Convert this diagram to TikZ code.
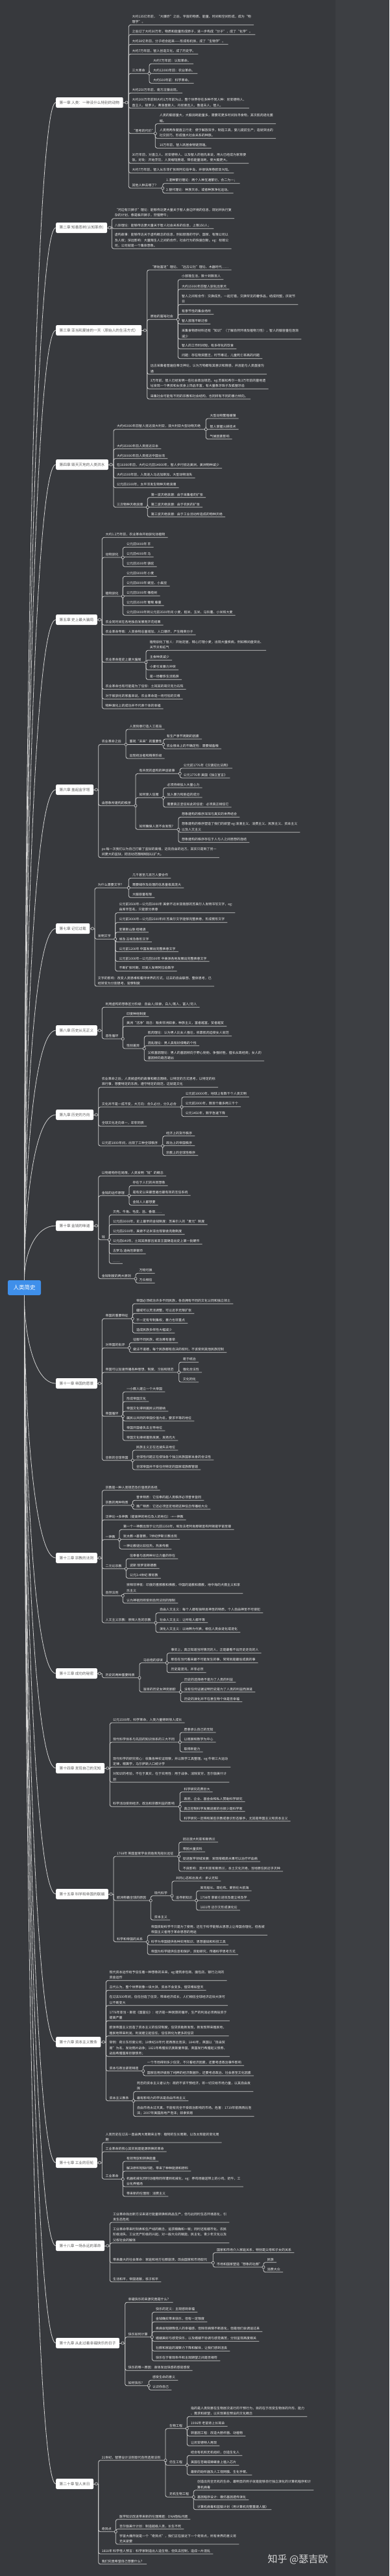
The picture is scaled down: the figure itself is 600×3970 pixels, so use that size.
\documentclass[tikz,border=0pt]{standalone}
\usepackage{fontspec}
\setmainfont{Noto Sans CJK SC}
\usepackage{xcolor}
\usepackage{tikz}
\usetikzlibrary{calc}

\definecolor{bgdark}{HTML}{37393D}
\definecolor{bgside}{HTML}{3D3F43}
\definecolor{linegray}{HTML}{D2D2D2}
\definecolor{itemwhite}{HTML}{F2F2F2}
\definecolor{topicgray}{HTML}{5C5C5C}
\definecolor{rootblue}{HTML}{3F8FEA}
\definecolor{brandgray}{HTML}{D8D8D8}

\begin{document}
\begin{tikzpicture}[x=1pt, y=-1pt,
      rootbox/.style={fill=rootblue, rounded corners=2.5pt, text=white, font=\fontsize{8.5}{10}\selectfont, minimum width=51pt, minimum height=23pt, inner sep=0pt},
      topic/.style={fill=white, rounded corners=2pt, text=topicgray, font=\fontsize{5.7}{7}\selectfont, minimum height=16pt, inner xsep=5.5pt, anchor=west},
      item/.style={anchor=south west, text=itemwhite, font=\fontsize{5}{8.3}\selectfont, align=left, inner xsep=4pt, inner ysep=2pt},
      link/.style={draw=linegray, line width=0.8pt, rounded corners=3pt},
      knob/.style={circle, draw=linegray, fill=bgdark, line width=0.6pt, inner sep=0pt, minimum size=4.2pt},
      brand/.style={text=brandgray, font=\fontsize{15}{18}\selectfont}]

    \path[use as bounding box, fill=bgdark] (0,0) rectangle (600,3970);
    \fill[bgside] (517,0) rectangle (600,3970);

    \node[rootbox] (root) at (37.5,1984.5) {人类简史};

    % 第一章
    \node[topic] (ch1) at (86,158) {第一章 人类：一种没什么特别的动物};
    \coordinate (ch1-k) at (195,158); \coordinate (ch1-t) at (198.3,158);
    \node[item] (c1a) at (199.3,38.3) {大约135亿年前，“大爆炸”之后，宇宙的物质、能量、时间和空间形成，成为“物\\理学”。};
    \node[item] (c1b) at (199.3,53.3) {之后过了大约30万年，物质和能量形成原子，进一步构成“分子”，成了“化学”。};
    \node[item] (c1c) at (199.3,68.3) {大约38亿年前，分子结合起来——形成有机体，成了“生物学”。};
    \node[item] (c1d) at (199.3,83.3) {大约7万年前，智人创造文化，成了历史学。};
    \node[item] (c1e) at (199.3,113.3) {三大革命};
    \coordinate (c1e-k) at (230,113.3);
    \node[item] (c1e1) at (232,98.3) {大约7万年前：认知革命。};
    \node[item] (c1e2) at (232,113.3) {大约12000年前：农业革命。};
    \node[item] (c1e3) at (232,128.3) {大约500年前：科学革命。};
    \node[item] (c1f) at (199.3,143.3) {大约250万年前，南方古猿出现。};
    \node[item] (c1g) at (199.3,166.7) {大约200万年前到大约1万年前为止，整个世界存在多种不同人种：尼安德特人、\\直立人、梭罗人、弗洛里斯人、丹尼索瓦人、鲁道夫人、智人。};
    \node[item] (c1h) at (199.3,205.7) {“思考的代价”};
    \coordinate (c1h-k) at (239.3,205.7);
    \node[item] (c1h1) at (241.7,190.7) {人类的脑容量大，大脑消耗能量多，需要花更多时间找寻食物，其次肌肉退化萎\\缩。};
    \node[item] (c1h2) at (241.7,213.3) {人类用两条腿直立行走：便于解放双手，制造工具，婴儿提前生产；造就突出的\\社交技巧，形成强大社会关系的种族。};
    \node[item] (c1h3) at (241.7,228.3) {10万年前，智人跃居食物链顶端。};
    \node[item] (c1i) at (199.3,251.7) {30万年前，对直立人、尼安德特人、以及智人的祖先来说，用火已经成为家常便\\饭。好处：开始烹饪，人类缩短肠道，降低能量消耗，使大脑更大。};
    \node[item] (c1j) at (199.3,266.7) {大约7万年前，智人从东非扩张到阿拉伯半岛，并很快席卷欧亚大陆。};
    \node[item] (c1k) at (199.3,290) {其他人种去哪了？};
    \coordinate (c1k-k) at (250.7,290);
    \node[item] (c1k1) at (252,282.7) {1.混种繁衍理论：两个人种互通繁衍，合二为一；};
    \node[item] (c1k2) at (252,297.7) {2.替代理论：种族灭杀，或者种族净化运动。};
    \draw[link] (ch1.east) -- (ch1-t);
    \foreach \n in {c1a,c1b,c1c,c1d,c1f,c1g,c1i,c1j} \draw[link] (ch1-t) |- (\n.south east);
    \foreach \n in {c1e,c1h,c1k} \draw[link] (ch1-t) |- (\n-k);
    \foreach \n in {c1e1,c1e2,c1e3} \draw[link] (c1e-k) |- (\n.south east);
    \foreach \n in {c1h1,c1h2,c1h3} \draw[link] (c1h-k) |- (\n.south east);
    \foreach \n in {c1k1,c1k2} \draw[link] (c1k-k) |- (\n.south east);
    \foreach \k in {ch1,c1e,c1h,c1k} \node[knob] at (\k-k) {};

    % 第二章
    \node[topic] (ch2) at (86,351) {第二章 知善恶树(认知革命)};
    \coordinate (ch2-k) at (169,351); \coordinate (ch2-t) at (172.3,351);
    \node[item] (c2a) at (172.7,336.7) {“河边有只狮子”理论：能够传达更大量关于智人身边环境的信息，规划并执行复\\杂的计划，像是躲开狮子，狩猎野牛；};
    \node[item] (c2b) at (172.7,352.3) {八卦理论：能够传达更大量关于智人社会关系的信息，上限150人；};
    \node[item] (c2c) at (172.7,383.3) {虚构故事：能够传达关于虚构概念的信息，例如部落的守护、国家、有限公司以\\及人权；深远影响：大量陌生人之间的合作，社会行为的快速创新。eg：标致公\\司，公司就是一个集体想象。};
    \draw[link] (ch2.east) -- (ch2-t);
    \foreach \n in {c2a,c2b,c2c} \draw[link] (ch2-t) |- (\n.south east);
    \node[knob] at (ch2-k) {};

    % 第三章
    \node[topic] (ch3) at (86,509) {第三章 亚当和夏娃的一天（原始人的生活方式）};
    \coordinate (ch3-k) at (223.3,509); \coordinate (ch3-t) at (226.7,509);
    \node[item] (c3a) at (227.7,416) {“原始富足”理论、“远古公社”理论、木器时代……};
    \node[item] (c3b) at (227.7,492.3) {原始的富裕社会};
    \coordinate (c3b-k) at (274.3,492.3);
    \node[item] (c3b1) at (276,430.7) {小部落生活，数十到数百人};
    \node[item] (c3b2) at (276,445.7) {大约15000年前智人驯化出家犬};
    \node[item] (c3b3) at (276,469.3) {智人之间有合作：交换成员，一起打猎，交换罕见的奢侈品，结成同盟，庆祝节\\日};
    \node[item] (c3b4) at (276,484.3) {有季节性的集会场所};
    \node[item] (c3b5) at (276,499.3) {智人部落不断迁移};
    \node[item] (c3b6) at (276,522.7) {采集食物原材料还有“知识”（了解自然环境及植物习性），智人的脑容量在逐渐\\减少};
    \node[item] (c3b7) at (276,537.7) {智人的工作时间短，有多样化的饮食};
    \node[item] (c3b8) at (276,552.7) {问题：存在物资匮乏，时节难过，儿童死亡率高的问题};
    \node[item] (c3c) at (227.7,576.7) {远古采集者普遍信奉泛神论，认为万物都有其意识和情感，并且能与人类直接沟\\通};
    \node[item] (c3d) at (227.7,599.3) {3万年前，智人已经发明一些社会政治规范。eg:苏联松希尔一处3万年前的墓地遗\\址发现一个男孩和女孩身上饰品丰富，有大量象牙珠子及狐狸牙齿};
    \node[item] (c3e) at (227.7,615) {采集社会可能有不同的宗教和社会结构，也同样有不同的暴力倾向。};
    \draw[link] (ch3.east) -- (ch3-t);
    \foreach \n in {c3a,c3c,c3d,c3e} \draw[link] (ch3-t) |- (\n.south east);
    \draw[link] (ch3-t) |- (c3b-k);
    \foreach \n in {c3b1,c3b2,c3b3,c3b4,c3b5,c3b6,c3b7,c3b8} \draw[link] (c3b-k) |- (\n.south east);
    \foreach \k in {ch3,c3b} \node[knob] at (\k-k) {};

    % 第四章
    \node[topic] (ch4) at (86,716) {第四章 毁天灭地的人类洪水};
    \coordinate (ch4-k) at (171,716); \coordinate (ch4-t) at (175,716);
    \node[item] (c4a) at (176,661.7) {大约45000年前智人抵达澳大利亚，澳大利亚大型动物灭绝};
    \coordinate (c4a-k) at (317.3,661.7);
    \node[item] (c4a1) at (319.3,645) {大型动物繁殖缓慢};
    \node[item] (c4a2) at (319.3,661.7) {智人掌握火耕技术};
    \node[item] (c4a3) at (319.3,676.7) {气候因素影响};
    \node[item] (c4b) at (176,691.7) {大约35000年前人类抵达日本};
    \node[item] (c4c) at (176,706.7) {大约30000年前人类抵达中国台湾};
    \node[item] (c4d) at (176,721.7) {在16000年前，大约公元前14000年，智人步行抵达美洲，美洲物种减少};
    \node[item] (c4e) at (176,736.7) {大约1500年前，人类进入马达加斯加，大型动物消失};
    \node[item] (c4f) at (176,751.7) {公元前1500年，太平洋发生物种灭绝浪潮};
    \node[item] (c4g) at (176,781.7) {三次物种灭绝浪潮};
    \coordinate (c4g-k) at (227.3,781.7);
    \node[item] (c4g1) at (228.7,766.7) {第一波灭绝浪潮：由于采集者的扩张};
    \node[item] (c4g2) at (228.7,781.7) {第二波灭绝浪潮：由于农民的扩张};
    \node[item] (c4g3) at (228.7,796.7) {第三波灭绝浪潮：由于工业活动所造成的物种灭绝};
    \draw[link] (ch4.east) -- (ch4-t);
    \foreach \n in {c4b,c4c,c4d,c4e,c4f} \draw[link] (ch4-t) |- (\n.south east);
    \foreach \n in {c4a,c4g} \draw[link] (ch4-t) |- (\n-k);
    \foreach \n in {c4a1,c4a2,c4a3} \draw[link] (c4a-k) |- (\n.south east);
    \foreach \n in {c4g1,c4g2,c4g3} \draw[link] (c4g-k) |- (\n.south east);
    \foreach \k in {ch4,c4a,c4g} \node[knob] at (\k-k) {};

    % 第五章
    \node[topic] (ch5) at (86,955) {第五章 史上最大骗局};
    \coordinate (ch5-k) at (153.3,955); \coordinate (ch5-t) at (157.3,955);
    \node[item] (c5a) at (158.3,828.3) {大约1.2万年前，农业革命开始驯化动植物};
    \node[item] (c5b) at (158.3,859) {动物驯化};
    \coordinate (c5b-k) at (189.3,859);
    \node[item] (c5b1) at (191,843.3) {公元前9000年 羊};
    \node[item] (c5b2) at (191,858.3) {公元前4000年 马};
    \node[item] (c5b3) at (191,873.3) {公元前3500年 骆驼};
    \node[item] (c5c) at (158.3,919) {植物驯化};
    \coordinate (c5c-k) at (189.3,919);
    \node[item] (c5c1) at (191,888.3) {公元前9000年 小麦};
    \node[item] (c5c2) at (191,903.3) {公元前8000年 豌豆、小扁豆};
    \node[item] (c5c3) at (191,918.3) {公元前5000年 橄榄树};
    \node[item] (c5c4) at (191,933.3) {公元前3500年 葡萄 藤蔓};
    \node[item] (c5c5) at (191,948.3) {公元前9000年到公元前3500年间 小麦、稻米、玉米、马铃薯、小米和大麦};
    \node[item] (c5d) at (158.3,963.3) {农业同时间在各地独自发展而开花结果};
    \node[item] (c5e) at (158.3,978.3) {农业革命导致：人类食物总量增加，人口爆炸，产生精英分子};
    \node[item] (c5f) at (158.3,1020.7) {农业革命是史上最大骗局};
    \coordinate (c5f-k) at (225,1020.7);
    \node[item] (c5f1) at (226.7,1002.3) {植物驯化了智人：开始定居，精心打理小麦，出现大量疾病，例如椎间盘突出、\\关节炎和疝气};
    \node[item] (c5f2) at (226.7,1017.3) {主食种类减少};
    \node[item] (c5f3) at (226.7,1032.3) {小麦引发暴力冲突};
    \node[item] (c5f4) at (226.7,1047.3) {是一场奢侈生活陷阱};
    \node[item] (c5g) at (158.3,1062.3) {农业革命也有可能是为了信仰：土耳其的哥贝克力石阵};
    \node[item] (c5h) at (158.3,1077.3) {对于被驯化的家畜来说，农业革命是一场可怕的灾难};
    \node[item] (c5i) at (158.3,1092.3) {物种演化上的成功并不代表个体的幸福};
    \draw[link] (ch5.east) -- (ch5-t);
    \foreach \n in {c5a,c5d,c5e,c5g,c5h,c5i} \draw[link] (ch5-t) |- (\n.south east);
    \foreach \n in {c5b,c5c,c5f} \draw[link] (ch5-t) |- (\n-k);
    \foreach \n in {c5b1,c5b2,c5b3} \draw[link] (c5b-k) |- (\n.south east);
    \foreach \n in {c5c1,c5c2,c5c3,c5c4,c5c5} \draw[link] (c5c-k) |- (\n.south east);
    \foreach \n in {c5f1,c5f2,c5f3,c5f4} \draw[link] (c5f-k) |- (\n.south east);
    \foreach \k in {ch5,c5b,c5c,c5f} \node[knob] at (\k-k) {};

    % 第六章
    \node[topic] (ch6) at (86,1217) {第六章 盖起金字塔};
    \coordinate (ch6-k) at (148.3,1217); \coordinate (ch6-t) at (151.7,1217);
    \node[item] (c6a) at (152.7,1147.3) {农业革命之后};
    \coordinate (c6a-k) at (194,1147.3);
    \node[item] (c6a1) at (195.3,1124) {人类刻意打造人工孤岛};
    \node[item] (c6a2) at (195.3,1147.3) {重视“未来”的重要性};
    \coordinate (c6a2-k) at (251.7,1147.3);
    \node[item] (c6a2a) at (252.7,1139) {有生产季节周期的因素};
    \node[item] (c6a2b) at (252.7,1154) {农业根本上的不确定性：需要储备粮};
    \node[item] (c6a3) at (195.3,1169) {出现统治者和精英阶级};
    \node[item] (c6b) at (152.7,1241.7) {由想象所建构的秩序};
    \coordinate (c6b-k) at (209,1241.7);
    \node[item] (c6b1) at (210.3,1192.3) {有共同的虚构的神话故事};
    \coordinate (c6b1-k) at (277.3,1192.3);
    \node[item] (c6b1a) at (278.7,1184) {公元前1776年《汉谟拉比法典》};
    \node[item] (c6b1b) at (278.7,1199) {公元1776年 美国《独立宣言》};
    \node[item] (c6b2) at (210.3,1229.3) {如何使人信服};
    \coordinate (c6b2-k) at (251.7,1229.3);
    \node[item] (c6b2a) at (253.3,1214) {必须持续投入大量心力};
    \node[item] (c6b2b) at (253.3,1229) {加入暴力和胁迫的成分};
    \node[item] (c6b2c) at (253.3,1244) {需要真正坚信如此的信徒：必须真正相信它};
    \node[item] (c6b3) at (210.3,1278.3) {如何确保人类不会发现?};
    \coordinate (c6b3-k) at (275,1278.3);
    \node[item] (c6b3a) at (276,1259.3) {想象建构的秩序深深与真实的世界结合};
    \node[item] (c6b3b) at (276,1282.7) {想象建构的秩序塑造了我们的欲望 eg:浪漫主义、消费主义、民族主义、资本主义\\以及人文主义};
    \node[item] (c6b3c) at (276,1298.3) {想象建构的秩序存在于人与人之间思想的连结};
    \node[item] (c6c) at (152.7,1321.7) {ps:每一次我们以为自己打破了监狱的高墙，迈向自由的远方，其实只是到了另一\\间更大的监狱，把活动范围稍稍加以扩大。};
    \draw[link] (ch6.east) -- (ch6-t);
    \draw[link] (ch6-t) |- (c6c.south east);
    \foreach \n in {c6a,c6b} \draw[link] (ch6-t) |- (\n-k);
    \foreach \n in {c6a1,c6a3} \draw[link] (c6a-k) |- (\n.south east);
    \draw[link] (c6a-k) -- (c6a2-k);
    \foreach \n in {c6a2a,c6a2b} \draw[link] (c6a2-k) |- (\n.south east);
    \foreach \n in {c6b1,c6b2,c6b3} \draw[link] (c6b-k) |- (\n-k);
    \foreach \n in {c6b1a,c6b1b} \draw[link] (c6b1-k) |- (\n.south east);
    \foreach \n in {c6b2a,c6b2b,c6b2c} \draw[link] (c6b2-k) |- (\n.south east);
    \foreach \n in {c6b3a,c6b3b,c6b3c} \draw[link] (c6b3-k) |- (\n.south east);
    \foreach \k in {ch6,c6a,c6a2,c6b,c6b1,c6b2,c6b3} \node[knob] at (\k-k) {};

    % 第七章
    \node[topic] (ch7) at (86,1431) {第七章 记忆过载};
    \coordinate (ch7-k) at (142.3,1431); \coordinate (ch7-t) at (146,1431);
    \node[item] (c7a) at (146.7,1368.3) {为什么需要文字?};
    \coordinate (c7a-k) at (198.3,1368.3);
    \node[item] (c7a1) at (200,1353.3) {几千甚至几百万人要合作};
    \node[item] (c7a2) at (200,1368.3) {需要储存及处理的信息量极其庞大};
    \node[item] (c7a3) at (200,1383.3) {大脑容量有限};
    \node[item] (c7b) at (146.7,1447.3) {发明文字};
    \coordinate (c7b-k) at (177.7,1447.3);
    \node[item] (c7b1) at (179.3,1406.7) {公元前3500年—公元前3000年 美索不达米亚南部的苏美尔人发明书写文字，eg:\\由库辛签名，只能部分表意};
    \node[item] (c7b2) at (179.3,1421.7) {公元前3000年—公元前2500年间 苏美尔文字能够完整表意，形成楔形文字};
    \node[item] (c7b3) at (179.3,1436.7) {安第斯山脉 结绳语};
    \node[item] (c7b4) at (179.3,1451.7) {埃及 古埃及象形文字};
    \node[item] (c7b5) at (179.3,1466.7) {公元前1200年 中国发展出完整表意文字};
    \node[item] (c7b6) at (179.3,1481.7) {公元前1000年—公元前500年 中美洲各地发展出完整表意文字};
    \node[item] (c7b7) at (179.3,1496.7) {不断扩张时期，印度人发明阿拉伯数字};
    \node[item] (c7c) at (146.7,1520) {文字的影响：改变人类思维和看待世界的方式，过去的自由联想、整体思考，已\\经转变为分割思考、官僚制度};
    \draw[link] (ch7.east) -- (ch7-t);
    \draw[link] (ch7-t) |- (c7c.south east);
    \foreach \n in {c7a,c7b} \draw[link] (ch7-t) |- (\n-k);
    \foreach \n in {c7a1,c7a2,c7a3} \draw[link] (c7a-k) |- (\n.south east);
    \foreach \n in {c7b1,c7b2,c7b3,c7b4,c7b5,c7b6,c7b7} \draw[link] (c7b-k) |- (\n.south east);
    \foreach \k in {ch7,c7a,c7b} \node[knob] at (\k-k) {};

    % 第八章
    \node[topic] (ch8) at (86,1588) {第八章 历史从无正义};
    \coordinate (ch8-k) at (153.3,1588); \coordinate (ch8-t) at (157.3,1588);
    \node[item] (c8a) at (158.3,1552.3) {利用虚构的想象区分阶级：自由人/奴隶，白人/黑人，富人/穷人};
    \node[item] (c8b) at (158.3,1601) {恶性循环};
    \coordinate (c8b-k) at (189.3,1601);
    \node[item] (c8b1) at (191,1566.7) {印度种姓制度};
    \node[item] (c8b2) at (191,1581.7) {美洲“洁净”观念：贩卖非洲奴隶，种族主义，富者越富，贫者越贫};
    \node[item] (c8b3) at (191,1616) {性别差异};
    \coordinate (c8b3-k) at (222.3,1616);
    \node[item] (c8b3a) at (223.7,1596.7) {肌肉理论：认为男人比女人强壮，依靠肌肉迫使女人就范};
    \node[item] (c8b3b) at (223.7,1611.7) {混乱理论：男人具有好侵略的个性};
    \node[item] (c8b3c) at (223.7,1635) {父权基因理论：男人的基因倾向于野心勃勃，争强好胜，擅长从政经商；女人的\\基因倾向趋吉避凶};
    \draw[link] (ch8.east) -- (ch8-t);
    \draw[link] (ch8-t) |- (c8a.south east);
    \draw[link] (ch8-t) |- (c8b-k);
    \foreach \n in {c8b1,c8b2} \draw[link] (c8b-k) |- (\n.south east);
    \draw[link] (c8b-k) |- (c8b3-k);
    \foreach \n in {c8b3a,c8b3b,c8b3c} \draw[link] (c8b3-k) |- (\n.south east);
    \foreach \k in {ch8,c8b,c8b3} \node[knob] at (\k-k) {};

    % 第九章
    \node[topic] (ch9) at (86,1718) {第九章 历史的方向};
    \coordinate (ch9-k) at (148.3,1718); \coordinate (ch9-t) at (151.7,1718);
    \node[item] (c9a) at (152.7,1675.7) {农业革命之后，人类被虚构的故事和概念围绕，以特定的方式思考，以特定的标\\准行事，想要特定的东西，遵守特定的规范，这就是文化};
    \node[item] (c9b) at (152.7,1706) {文化并不是一成不变，大方向：合久必分，分久必合};
    \coordinate (c9b-k) at (280,1706);
    \node[item] (c9b1) at (281.7,1690.7) {公元前10000年，地球上有数千个人类文明};
    \node[item] (c9b2) at (281.7,1705.7) {公元前2000年，数百个最多两三千个};
    \node[item] (c9b3) at (281.7,1720.7) {公元1450年，数字急速下降};
    \node[item] (c9c) at (152.7,1735.7) {全球文化走向单一，却非同质};
    \node[item] (c9d) at (152.7,1766) {公元前1000年间，出现了三种全球秩序};
    \coordinate (c9d-k) at (250.7,1766);
    \node[item] (c9d1) at (252,1750.7) {经济上的货币秩序};
    \node[item] (c9d2) at (252,1765.7) {政治上的帝国秩序};
    \node[item] (c9d3) at (252,1780.7) {宗教上的全球性秩序};
    \draw[link] (ch9.east) -- (ch9-t);
    \foreach \n in {c9a,c9c} \draw[link] (ch9-t) |- (\n.south east);
    \foreach \n in {c9b,c9d} \draw[link] (ch9-t) |- (\n-k);
    \foreach \n in {c9b1,c9b2,c9b3} \draw[link] (c9b-k) |- (\n.south east);
    \foreach \n in {c9d1,c9d2,c9d3} \draw[link] (c9d-k) |- (\n.south east);
    \foreach \k in {ch9,c9b,c9d} \node[knob] at (\k-k) {};

    % 第十章
    \node[topic] (ch10) at (86,1889) {第十章 金钱的味道};
    \coordinate (ch10-k) at (148.3,1889); \coordinate (ch10-t) at (151.7,1889);
    \node[item] (c10a) at (152.7,1812.3) {以物易物存在局限，人类发明“钱”的概念};
    \node[item] (c10b) at (152.7,1842.7) {金钱的运作原理};
    \coordinate (c10b-k) at (199,1842.7);
    \node[item] (c10b1) at (200.3,1827.3) {存在于人们的共同想象};
    \node[item] (c10b2) at (200.3,1842.3) {是有史以来最普遍也最有效的互信系统};
    \node[item] (c10b3) at (200.3,1857.3) {金钱人人都想要};
    \node[item] (c10c) at (152.7,1910.7) {钱};
    \coordinate (c10c-k) at (168.3,1910.7);
    \node[item] (c10c1) at (170,1872.3) {贝壳、牛角、毛皮、盐、香烟……};
    \node[item] (c10c2) at (170,1887.3) {公元前3000年，史上最早的金钱制度：苏美尔人的“麦元”制度};
    \node[item] (c10c3) at (170,1902.3) {公元前2500年，美索不达米亚出现银舍克勒制度};
    \node[item] (c10c4) at (170,1917.3) {公元前640年，土耳其西部吕底亚王国铸造出史上第一批硬币};
    \node[item] (c10c5) at (170,1932.3) {古罗马 迪纳厄斯银币};
    \node[item] (c10c6) at (170,1947.3) {……};
    \node[item] (c10d) at (152.7,1970.7) {金钱制度的两大原则};
    \coordinate (c10d-k) at (209,1970.7);
    \node[item] (c10d1) at (210.3,1962.3) {万物可换};
    \node[item] (c10d2) at (210.3,1977.3) {万众相信};
    \draw[link] (ch10.east) -- (ch10-t);
    \draw[link] (ch10-t) |- (c10a.south east);
    \foreach \n in {c10b,c10c,c10d} \draw[link] (ch10-t) |- (\n-k);
    \foreach \n in {c10b1,c10b2,c10b3} \draw[link] (c10b-k) |- (\n.south east);
    \foreach \n in {c10c1,c10c2,c10c3,c10c4,c10c5,c10c6} \draw[link] (c10c-k) |- (\n.south east);
    \foreach \n in {c10d1,c10d2} \draw[link] (c10d-k) |- (\n.south east);
    \foreach \k in {ch10,c10b,c10c,c10d} \node[knob] at (\k-k) {};

    % 第十一章
    \node[topic] (ch11) at (86,2132) {第十一章 帝国的愿景};
    \coordinate (ch11-k) at (153.3,2132); \coordinate (ch11-t) at (157.3,2132);
    \node[item] (c11a) at (158.3,2032.3) {帝国的重要特征};
    \coordinate (c11a-k) at (204.3,2032.3);
    \node[item] (c11a1) at (206,2009.3) {帝国必须统治许多不同民族，各自拥有不同的文化认同和独立领土};
    \node[item] (c11a2) at (206,2024.3) {疆域可以灵活调整，可以近乎无限扩张};
    \node[item] (c11a3) at (206,2039.3) {不一定有专制集权，暴力也非重点};
    \node[item] (c11a4) at (206,2054.3) {造成民族多样性大幅减少};
    \node[item] (c11b) at (158.3,2077.3) {对帝国的批评};
    \coordinate (c11b-k) at (199.3,2077.3);
    \node[item] (c11b1) at (201,2069.3) {征服不同民族，统治难有善举};
    \node[item] (c11b2) at (201,2084.3) {做法不道德，每个民族都有自决的权利，不该受到其他民族控制};
    \node[item] (c11c) at (158.3,2115) {帝国可以加速传播各种思想、制度、习俗和规范};
    \coordinate (c11c-k) at (275.7,2115);
    \node[item] (c11c1) at (277.7,2099.3) {易于统治};
    \node[item] (c11c2) at (277.7,2115) {强化合法性};
    \node[item] (c11c3) at (277.7,2130) {文化同化};
    \node[item] (c11d) at (158.3,2182.7) {帝国循环};
    \coordinate (c11d-k) at (189.3,2182.7);
    \node[item] (c11d1) at (191,2145) {一小群人建立一个大帝国};
    \node[item] (c11d2) at (191,2160) {形成帝国文化};
    \node[item] (c11d3) at (191,2175) {帝国文化得到属民认同接纳};
    \node[item] (c11d4) at (191,2190) {属民以共同的帝国价值为名，要求平等的地位};
    \node[item] (c11d5) at (191,2205) {帝国开国者失去主导地位};
    \node[item] (c11d6) at (191,2220) {帝国文化继续蓬勃发展，发扬光大};
    \node[item] (c11e) at (158.3,2250.7) {全新的全球帝国};
    \coordinate (c11e-k) at (204.3,2250.7);
    \node[item] (c11e1) at (206,2235) {民族主义正在迅速失去地位};
    \node[item] (c11e2) at (206,2250) {全球性问题正在侵蚀各个独立民族国家本身的合法性};
    \node[item] (c11e3) at (206,2265) {全球帝国并不受任何特定的国家或族群管辖};
    \draw[link] (ch11.east) -- (ch11-t);
    \foreach \n in {c11a,c11b,c11c,c11d,c11e} \draw[link] (ch11-t) |- (\n-k);
    \foreach \n in {c11a1,c11a2,c11a3,c11a4} \draw[link] (c11a-k) |- (\n.south east);
    \foreach \n in {c11b1,c11b2} \draw[link] (c11b-k) |- (\n.south east);
    \foreach \n in {c11c1,c11c2,c11c3} \draw[link] (c11c-k) |- (\n.south east);
    \foreach \n in {c11d1,c11d2,c11d3,c11d4,c11d5,c11d6} \draw[link] (c11d-k) |- (\n.south east);
    \foreach \n in {c11e1,c11e2,c11e3} \draw[link] (c11e-k) |- (\n.south east);
    \foreach \k in {ch11,c11a,c11b,c11c,c11d,c11e} \node[knob] at (\k-k) {};

    % 第十二章
    \node[topic] (ch12) at (86,2401) {第十二章 宗教的法则};
    \coordinate (ch12-k) at (153.3,2401); \coordinate (ch12-t) at (157.3,2401);
    \node[item] (c12a) at (158.3,2296.7) {宗教是一种人类规范及价值观的系统};
    \node[item] (c12b) at (158.3,2320) {宗教的两种特质};
    \coordinate (c12b-k) at (204.3,2320);
    \node[item] (c12b1) at (206,2312.3) {普世特质：它信奉的超人类秩序必须普世皆同};
    \node[item] (c12b2) at (206,2326) {推广特质：它还必须坚定地把这种信念传播给大众};
    \node[item] (c12c) at (158.3,2342.3) {泛神论→多神教（提高神的地位及人的地位）→一神教};
    \node[item] (c12d) at (158.3,2372.7) {一神教};
    \coordinate (c12d-k) at (184,2372.7);
    \node[item] (c12d1) at (186,2357.3) {第一个一神教出现于公元前1350年，埃及法老阿肯那顿宣布阿顿是宇宙至尊};
    \node[item] (c12d2) at (186,2372.3) {犹太教→基督教，7世纪伊斯兰教出现};
    \node[item] (c12d3) at (186,2387.3) {一神论教徒比较狂热，热衷传教};
    \node[item] (c12e) at (158.3,2417.7) {二元论宗教};
    \coordinate (c12e-k) at (194.3,2417.7);
    \node[item] (c12e1) at (196,2402.3) {信奉善与恶两种对立力量的存在};
    \node[item] (c12e2) at (196,2417.3) {波斯 琐罗亚斯德教};
    \node[item] (c12e3) at (196,2432.3) {公元3-4世纪 摩尼教};
    \node[item] (c12f) at (158.3,2459.3) {自然法则};
    \coordinate (c12f-k) at (189.3,2459.3);
    \node[item] (c12f1) at (191,2455.7) {崇拜非神祇：印度的耆那教和佛教，中国的道教和儒教，地中海的犬儒主义和享\\乐主义};
    \node[item] (c12f2) at (191,2470.7) {认为神祇同样受到自然法则的限制};
    \node[item] (c12g) at (158.3,2501) {人文主义宗教：崇拜人性的宗教};
    \coordinate (c12g-k) at (240,2501);
    \node[item] (c12g1) at (242,2485.7) {自由人文主义：每个人都有独特且神圣的特质，个人自由神圣不可侵犯};
    \node[item] (c12g2) at (242,2500.7) {社会人文主义：让所有人都平等};
    \node[item] (c12g3) at (242,2515.7) {演化人文主义：以纳粹为代表，相信人类会进化或退化};
    \draw[link] (ch12.east) -- (ch12-t);
    \foreach \n in {c12a,c12c} \draw[link] (ch12-t) |- (\n.south east);
    \foreach \n in {c12b,c12d,c12e,c12f,c12g} \draw[link] (ch12-t) |- (\n-k);
    \foreach \n in {c12b1,c12b2} \draw[link] (c12b-k) |- (\n.south east);
    \foreach \n in {c12d1,c12d2,c12d3} \draw[link] (c12d-k) |- (\n.south east);
    \foreach \n in {c12e1,c12e2,c12e3} \draw[link] (c12e-k) |- (\n.south east);
    \foreach \n in {c12f1,c12f2} \draw[link] (c12f-k) |- (\n.south east);
    \foreach \n in {c12g1,c12g2,c12g3} \draw[link] (c12g-k) |- (\n.south east);
    \foreach \k in {ch12,c12b,c12d,c12e,c12f,c12g} \node[knob] at (\k-k) {};

    % 第十三章
    \node[topic] (ch13) at (86,2579) {第十三章 成功的秘密};
    \coordinate (ch13-k) at (153.3,2579); \coordinate (ch13-t) at (157.3,2579);
    \node[item] (c13a) at (158.3,2585.7) {历史的两种重要特质};
    \coordinate (c13a-k) at (215,2585.7);
    \node[item] (c13a1) at (216.7,2562.7) {马后炮的谬误};
    \coordinate (c13a1-k) at (257.3,2562.7);
    \node[item] (c13a1a) at (259.3,2547.7) {事实上，真正知道当时情况的人，正是最看不出历史走向的人};
    \node[item] (c13a1b) at (259.3,2562.7) {那些在当代看来最不可能发生的事，常常就是最后成真的事};
    \node[item] (c13a1c) at (259.3,2577.7) {历史是混沌，并非必然};
    \node[item] (c13a2) at (216.7,2607.7) {盲目的历史女神克丽欧};
    \coordinate (c13a2-k) at (278.3,2607.7);
    \node[item] (c13a2a) at (280,2592.7) {历史的选择绝不是为了人类的利益};
    \node[item] (c13a2b) at (280,2607.7) {没有任何证据证明历史是为了人类的利益而演进};
    \node[item] (c13a2c) at (280,2622.7) {历史的演化并不在意生物个体是否幸福};
    \draw[link] (ch13.east) -- (ch13-t);
    \draw[link] (ch13-t) |- (c13a-k);
    \foreach \n in {c13a1,c13a2} \draw[link] (c13a-k) |- (\n-k);
    \foreach \n in {c13a1a,c13a1b,c13a1c} \draw[link] (c13a1-k) |- (\n.south east);
    \foreach \n in {c13a2a,c13a2b,c13a2c} \draw[link] (c13a2-k) |- (\n.south east);
    \foreach \k in {ch13,c13a,c13a1,c13a2} \node[knob] at (\k-k) {};

    % 第十四章
    \node[topic] (ch14) at (86,2725) {第十四章 发现自己的无知};
    \coordinate (ch14-k) at (165.7,2725); \coordinate (ch14-t) at (169.3,2725);
    \node[item] (c14a) at (170,2655) {公元1500年，科学革命，人类力量得到惊人成长};
    \node[item] (c14b) at (170,2685) {现代科学体系与先前的知识体系的三大不同};
    \coordinate (c14b-k) at (277.3,2685);
    \node[item] (c14b1) at (279.3,2670) {愿意承认自己的无知};
    \node[item] (c14b2) at (279.3,2685) {以观察和数学为中心};
    \node[item] (c14b3) at (279.3,2700) {取得新能力};
    \node[item] (c14c) at (170,2723.3) {现代科学的研究核心：收集各种实证观察，并以数学工具整理。eg:牛顿三大运动\\定律，精算学，马尔萨斯人口统计学};
    \node[item] (c14d) at (170,2746.7) {对知识的考验，不在于真实，在于实用性：用于战争、消除贫穷，吉尔伽美什计\\划};
    \node[item] (c14e) at (170,2784.3) {科学活动受到经济、政治和宗教利益的影响};
    \coordinate (c14e-k) at (277.3,2784.3);
    \node[item] (c14e1) at (279.3,2761.7) {科学研究花费巨大};
    \node[item] (c14e2) at (279.3,2776.7) {政府、企业、基金会和私人赞助科学研究};
    \node[item] (c14e3) at (279.3,2791.7) {真正控制科学发展进度的也很少是科学家};
    \node[item] (c14e4) at (279.3,2806.7) {科学研究一定得和某些宗教或意识形态联手，尤其是帝国主义和资本主义};
    \draw[link] (ch14.east) -- (ch14-t);
    \foreach \n in {c14a,c14c,c14d} \draw[link] (ch14-t) |- (\n.south east);
    \foreach \n in {c14b,c14e} \draw[link] (ch14-t) |- (\n-k);
    \foreach \n in {c14b1,c14b2,c14b3} \draw[link] (c14b-k) |- (\n.south east);
    \foreach \n in {c14e1,c14e2,c14e3,c14e4} \draw[link] (c14e-k) |- (\n.south east);
    \foreach \k in {ch14,c14b,c14e} \node[knob] at (\k-k) {};

    % 第十五章
    \node[topic] (ch15) at (86,2919) {第十五章 科学和帝国的联姻};
    \coordinate (ch15-k) at (171,2919); \coordinate (ch15-t) at (175,2919);
    \node[item] (c15a) at (176,2861) {1768年 英国皇家学会资助库克船长远征};
    \coordinate (c15a-k) at (275.7,2861);
    \node[item] (c15a1) at (277.7,2839) {抵达澳大利亚和新西兰};
    \node[item] (c15a2) at (277.7,2854) {带回大量资料};
    \node[item] (c15a3) at (277.7,2869) {促进医学领域发展：发现柑橘类水果可以治疗坏血病};
    \node[item] (c15a4) at (277.7,2884) {不良影响：澳大利亚和新西兰，本土文化灭绝，当地原住民近乎灭种};
    \node[item] (c15b) at (176,2929) {欧洲称霸全球的原因};
    \coordinate (c15b-k) at (232.3,2929);
    \node[item] (c15b1) at (233.7,2921.7) {现代科学};
    \coordinate (c15b1-k) at (265,2921.7);
    \node[item] (c15b1a) at (267,2899) {共同心态和出发点：承认无知};
    \node[item] (c15b1b) at (267,2929) {追寻新知识};
    \coordinate (c15b1b-k) at (302.7,2929);
    \node[item] (c15b1b1) at (304.3,2914) {库克船长、哥伦布、麦哲伦大航海};
    \node[item] (c15b1b2) at (304.3,2929) {1798年 拿破仑进攻及建立埃及学};
    \node[item] (c15b1b3) at (304.3,2944) {1831年 达尔文形成演化论};
    \node[item] (c15b2) at (233.7,2959) {资本主义};
    \node[item] (c15c) at (176,2992.7) {科学和帝国的关系};
    \coordinate (c15c-k) at (227.3,2992.7);
    \node[item] (c15c1) at (228.7,2982.3) {帝国资助科学不只是为了使用，还在于科学能够从思想上让帝国合理化，但各被\\帝国主义者用于革命思想的用途};
    \node[item] (c15c2) at (228.7,2997.3) {科学为帝国提供各种实用知识、思想基础和科技工具};
    \node[item] (c15c3) at (228.7,3012.3) {帝国为科学提供信息和保护，资助研究，传播科学思考方式};
    \draw[link] (ch15.east) -- (ch15-t);
    \foreach \n in {c15a,c15b,c15c} \draw[link] (ch15-t) |- (\n-k);
    \foreach \n in {c15a1,c15a2,c15a3,c15a4} \draw[link] (c15a-k) |- (\n.south east);
    \draw[link] (c15b-k) |- (c15b1-k);
    \draw[link] (c15b-k) |- (c15b2.south east);
    \draw[link] (c15b1-k) |- (c15b1a.south east);
    \draw[link] (c15b1-k) |- (c15b1b-k);
    \foreach \n in {c15b1b1,c15b1b2,c15b1b3} \draw[link] (c15b1b-k) |- (\n.south east);
    \foreach \n in {c15c1,c15c2,c15c3} \draw[link] (c15c-k) |- (\n.south east);
    \foreach \k in {ch15,c15a,c15b,c15b1,c15b1b,c15c} \node[knob] at (\k-k) {};

    % 第十六章
    \node[topic] (ch16) at (86,3147) {第十六章 资本主义教条};
    \coordinate (ch16-k) at (159.3,3147); \coordinate (ch16-t) at (163.3,3147);
    \node[item] (c16a) at (164.3,3052.3) {现代资本运作给予信任着一种想象的未来，eg:建筑承包商、面包店、银行之间的\\资金运作};
    \node[item] (c16b) at (164.3,3067.3) {古代认为，整个世界就像一块大饼，资本不会变多，借贷难如登天};
    \node[item] (c16c) at (164.3,3090.7) {在过去500年间，信任创造了信贷，带来经济成长，人们相信全球经济这块大饼可\\以不断变大};
    \node[item] (c16d) at (164.3,3114.3) {1776年亚当·斯密《国富论》：经济是一种回馈的循环，生产的利润必须再投资于\\提高产量};
    \node[item] (c16e) at (164.3,3137.7) {欧洲帝国主义创造了资本主义的信贷制度，信贷资助新发现，新发现带来殖民地，\\殖民地带来利润，利润建立起信任，信任转化为更多的信贷};
    \node[item] (c16f) at (164.3,3169.3) {举例：荷兰东印度公司；18世纪20年代 密西西比泡沫；1840年，英国以“自由贸\\易”为名，发动鸦片战争；1821年希腊反抗奥斯曼帝国，英国发行希腊起义债券，\\战后希腊国库巨额债务；};
    \node[item] (c16g) at (164.3,3191.7) {资本与政治紧密相连};
    \coordinate (c16g-k) at (220.7,3191.7);
    \node[item] (c16g1) at (222.7,3183.3) {一个市场得到多少信贷，不只看经济因素，还要考虑政治事件影响};
    \node[item] (c16g2) at (222.7,3199) {国家信用评级除了纯粹的经济数据外，还要考虑政治、社会甚至文化因素};
    \node[item] (c16h) at (164.3,3237.7) {资本主义教条};
    \coordinate (c16h-k) at (205.7,3237.7);
    \node[item] (c16h1) at (207,3223.3) {死忠的资本主义者认为：政府不该干预经济，将一切交给市场力量，以其自由发\\挥};
    \node[item] (c16h2) at (207,3237.7) {最有影响力的学派是自由市场主义};
    \node[item] (c16h3) at (207,3261.7) {自由市场太过天真，不能有完全不受政治影响的市场。危害：1719年密西西比泡\\沫；2007年美国房地产泡沫；奴隶贸易};
    \draw[link] (ch16.east) -- (ch16-t);
    \foreach \n in {c16a,c16b,c16c,c16d,c16e,c16f} \draw[link] (ch16-t) |- (\n.south east);
    \foreach \n in {c16g,c16h} \draw[link] (ch16-t) |- (\n-k);
    \foreach \n in {c16g1,c16g2} \draw[link] (c16g-k) |- (\n.south east);
    \foreach \n in {c16h1,c16h2,c16h3} \draw[link] (c16h-k) |- (\n.south east);
    \foreach \k in {ch16,c16g,c16h} \node[knob] at (\k-k) {};

    % 第十七章
    \node[topic] (ch17) at (86,3333) {第十七章 工业的巨轮};
    \coordinate (ch17-k) at (153.3,3333); \coordinate (ch17-t) at (157.3,3333);
    \node[item] (c17a) at (158.3,3302) {人类历史在过去一直由两大周期来主导：植物的生长周期，以及太阳能的变化周\\期};
    \node[item] (c17b) at (158.3,3316) {工业革命的核心其实就是能源转换的革命};
    \node[item] (c17c) at (158.3,3358.3) {工业革命};
    \coordinate (c17c-k) at (189.3,3358.3);
    \node[item] (c17c1) at (191,3331) {有效驾驭和转换能量};
    \node[item] (c17c2) at (191,3346) {解决原料短缺问题，带来了种种能源和原料};
    \node[item] (c17c3) at (191,3370) {机器机械化同时动植物同样遭到机械化，eg：养鸡场输送带上的小鸡，奶牛，工\\业化养猪场};
    \node[item] (c17c4) at (191,3385) {带来新的伦理观：消费主义};
    \draw[link] (ch17.east) -- (ch17-t);
    \foreach \n in {c17a,c17b} \draw[link] (ch17-t) |- (\n.south east);
    \draw[link] (ch17-t) |- (c17c-k);
    \foreach \n in {c17c1,c17c2,c17c3,c17c4} \draw[link] (c17c-k) |- (\n.south east);
    \foreach \k in {ch17,c17c} \node[knob] at (\k-k) {};

    % 第十八章
    \node[topic] (ch18) at (86,3461) {第十八章 一场永远的革命};
    \coordinate (ch18-k) at (165.7,3461); \coordinate (ch18-t) at (169.3,3461);
    \node[item] (c18a) at (170,3425) {工业革命找出新方法来进行能量转换和商品生产，但与此同时生态环境恶化，引\\发生态危机};
    \node[item] (c18b) at (170,3456.7) {工业革命带来时刻表和生产线的概念，追求精确和一致；同时还有都市化、农民\\阶级消失、工业无产阶级的兴起、对一般大众的赋能、民主化、青少年文化以及\\父权社会的解体};
    \node[item] (c18c) at (170,3487.3) {带来最大的社会革命：家庭和地方社群崩溃，改由国家和市场取代};
    \coordinate (c18c-k) at (328.3,3487.3);
    \node[item] (c18c1) at (330,3471.7) {国家和市场介入家庭关系，特别是父母和子女的关系};
    \node[item] (c18c2) at (330,3494) {市场和国家塑造“想象的社群”};
    \coordinate (c18c2-k) at (406,3494);
    \node[item] (c18c2a) at (407.7,3486.7) {民族};
    \node[item] (c18c2b) at (407.7,3501.7) {消费大众};
    \node[item] (c18d) at (170,3516.7) {生活和平，帝国退散，核子和平};
    \draw[link] (ch18.east) -- (ch18-t);
    \foreach \n in {c18a,c18b,c18d} \draw[link] (ch18-t) |- (\n.south east);
    \draw[link] (ch18-t) |- (c18c-k);
    \draw[link] (c18c-k) |- (c18c1.south east);
    \draw[link] (c18c-k) |- (c18c2-k);
    \foreach \n in {c18c2a,c18c2b} \draw[link] (c18c2-k) |- (\n.south east);
    \foreach \k in {ch18,c18c,c18c2} \node[knob] at (\k-k) {};

    % 第十九章
    \node[topic] (ch19) at (86,3611) {第十九章 从此过着幸福快乐的日子};
    \coordinate (ch19-k) at (189,3611); \coordinate (ch19-t) at (192.7,3611);
    \node[item] (c19a) at (193.3,3548.3) {幸福快乐的来源究竟是什么？};
    \node[item] (c19b) at (193.3,3601.7) {快乐如何计算};
    \coordinate (c19b-k) at (234.3,3601.7);
    \node[item] (c19b1) at (236,3563.3) {快乐的定义：主观感到幸福};
    \node[item] (c19b2) at (236,3578.3) {金钱确实带来快乐，但有一定限度};
    \node[item] (c19b3) at (236,3593.3) {疾病会短期降低人的幸福感，但除非病情不断恶化，但是他们会调适过来};
    \node[item] (c19b4) at (236,3608.3) {婚姻美好与感觉快乐，以及婚姻不协调与感觉痛苦，分别呈现高度相关};
    \node[item] (c19b5) at (236,3623.3) {社群和家庭的凝聚力下降和解体，让我们感到沮丧};
    \node[item] (c19b6) at (236,3638.3) {快乐在于客观条件和主观期望之间是否相符};
    \node[item] (c19c) at (193.3,3653.3) {快乐的唯一原因：身体发出快感的感官感受};
    \node[item] (c19d) at (193.3,3676.7) {如何快乐?};
    \coordinate (c19d-k) at (229.3,3676.7);
    \node[item] (c19d1) at (231,3668.3) {感受生命的意义};
    \node[item] (c19d2) at (231,3683.3) {认识你自己};
    \draw[link] (ch19.east) -- (ch19-t);
    \foreach \n in {c19a,c19c} \draw[link] (ch19-t) |- (\n.south east);
    \foreach \n in {c19b,c19d} \draw[link] (ch19-t) |- (\n-k);
    \foreach \n in {c19b1,c19b2,c19b3,c19b4,c19b5,c19b6} \draw[link] (c19b-k) |- (\n.south east);
    \foreach \n in {c19d1,c19d2} \draw[link] (c19d-k) |- (\n.south east);
    \foreach \k in {ch19,c19b,c19d} \node[knob] at (\k-k) {};

    % 第二十章
    \node[topic] (ch20) at (86,3828) {第二十章 智人末日};
    \coordinate (ch20-k) at (148.3,3828); \coordinate (ch20-t) at (151.7,3828);
    \node[item] (c20a) at (152.7,3791.7) {21世纪，智慧设计法则取代自然选择法则};
    \coordinate (c20a-k) at (255,3791.7);
    \node[item] (c20a1) at (257,3742.7) {生物工程};
    \coordinate (c20a1-k) at (288.3,3742.7);
    \node[item] (c20a1a) at (290,3724.3) {指的是人类刻意在生物层次进行的干预行为，目的在于改变生物体的外形、能力\\、需求和欲望，以实现某些预设的文化概念};
    \node[item] (c20a1b) at (290,3739.3) {1996年 老鼠背上长耳朵};
    \node[item] (c20a1c) at (290,3754.3) {转基因工程：改造大肠杆菌、动植物};
    \node[item] (c20a1d) at (290,3769.3) {让尼安德特人再现};
    \node[item] (c20a2) at (257,3799.3) {仿生工程};
    \coordinate (c20a2-k) at (288.3,3799.3);
    \node[item] (c20a2a) at (290,3784.3) {结合有机和无机组织，创造生化人};
    \node[item] (c20a2b) at (290,3799.3) {美国在苍蝇或蟑螂身上植入芯片};
    \node[item] (c20a2c) at (290,3814.3) {最新的助听器及人工视网膜、生化手臂。};
    \node[item] (c20a3) at (257,3848.3) {无机生物工程};
    \coordinate (c20a3-k) at (298.3,3848.3);
    \node[item] (c20a3a) at (300,3837.7) {创造出完全无机的生命，最明显的例子就是能够自行独立演化的计算机程序和计\\算机病毒};
    \node[item] (c20a3b) at (300,3852.7) {基因程序设计：模仿基因遗传演化};
    \node[item] (c20a3c) at (300,3867.7) {计算机病毒和蓝脑计划（用计算机完整重建人脑）};
    \node[item] (c20b) at (152.7,3901.7) {奇异点};
    \coordinate (c20b-k) at (178.3,3901.7);
    \node[item] (c20b1) at (180,3882.7) {医学知识改进带来新的伦理难题：DNA隐私问题};
    \node[item] (c20b2) at (180,3897.7) {吉尔伽美什计划：制造超级人类，长生不死};
    \node[item] (c20b3) at (180,3921) {宇宙大爆炸就是一个“奇异点”，我们正在接近下一个奇异点，所有世界的意义将\\无关紧要};
    \node[item] (c20c) at (152.7,3936) {1818年 科学怪人预言：科学家制造出人造生物，但失去控制，造成一片混乱};
    \node[item] (c20d) at (152.7,3951.7) {我们究竟希望自己想要什么？};
    \draw[link] (ch20.east) -- (ch20-t);
    \foreach \n in {c20c,c20d} \draw[link] (ch20-t) |- (\n.south east);
    \foreach \n in {c20a,c20b} \draw[link] (ch20-t) |- (\n-k);
    \foreach \n in {c20a1,c20a2,c20a3} \draw[link] (c20a-k) |- (\n-k);
    \foreach \n in {c20a1a,c20a1b,c20a1c,c20a1d} \draw[link] (c20a1-k) |- (\n.south east);
    \foreach \n in {c20a2a,c20a2b,c20a2c} \draw[link] (c20a2-k) |- (\n.south east);
    \foreach \n in {c20a3a,c20a3b,c20a3c} \draw[link] (c20a3-k) |- (\n.south east);
    \foreach \n in {c20b1,c20b2,c20b3} \draw[link] (c20b-k) |- (\n.south east);
    \foreach \k in {ch20,c20a,c20a1,c20a2,c20a3,c20b} \node[knob] at (\k-k) {};

    % root to chapters
    \foreach \i in {1,...,10}
      \draw[link] (root.north) .. controls ($(root.north)!.5!(root.north|-ch\i.west)$) and ($(ch\i.west)+(-31,0)$) .. (ch\i.west);
    \foreach \i in {11,...,20}
      \draw[link] (root.south) .. controls ($(root.south)!.5!(root.south|-ch\i.west)$) and ($(ch\i.west)+(-31,0)$) .. (ch\i.west);

    \node[brand] (logo) at (459,3944) {知乎 @瑟吉欧};
  \end{tikzpicture}
\end{document}
